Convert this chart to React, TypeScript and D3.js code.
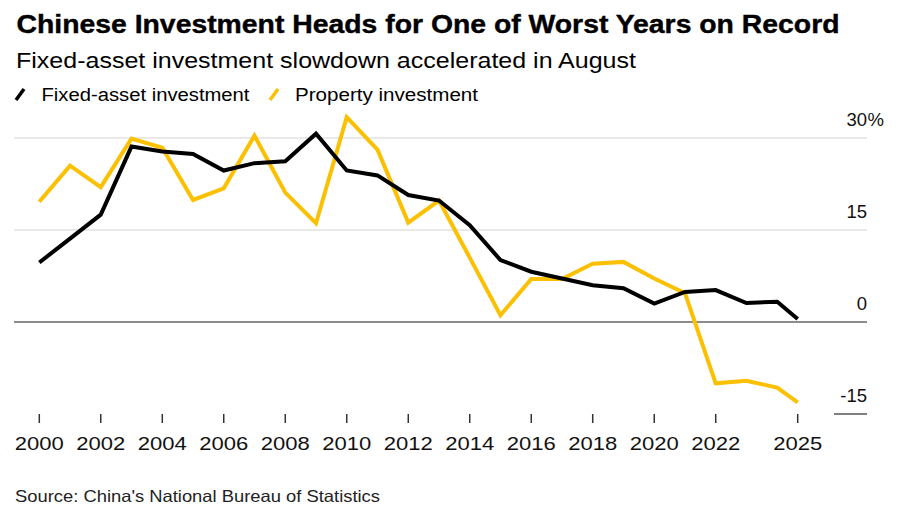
import React from 'react';
import * as d3 from 'd3';

// yearly growth, % y/y (2025 = Jan-Aug)
const years = [2000, 2001, 2002, 2003, 2004, 2005, 2006, 2007, 2008, 2009, 2010, 2011, 2012,
  2013, 2014, 2015, 2016, 2017, 2018, 2019, 2020, 2021, 2022, 2023, 2024, 2025];
const fixedAsset = [9.7, 13.6, 17.5, 28.6, 27.8, 27.4, 24.7, 25.9, 26.2, 30.7, 24.7, 23.9, 20.7,
  19.8, 15.8, 10.1, 8.2, 7.1, 6.0, 5.5, 3.0, 4.9, 5.2, 3.1, 3.3, 0.5];
const property = [19.6, 25.5, 22.0, 29.9, 28.4, 19.9, 21.8, 30.4, 21.1, 16.1, 33.4, 28.1, 16.2,
  19.8, 10.5, 1.1, 7.0, 7.0, 9.5, 9.8, 7.1, 4.7, -10.0, -9.6, -10.7, -13.1];
const tickYears = [2000, 2002, 2004, 2006, 2008, 2010, 2012, 2014, 2016, 2018, 2020, 2022, 2025];
const yTicks = [30, 15, 0, -15];

const W = 902;
const H = 505;
const FONT = "'Liberation Sans', Arial, sans-serif";
const YELLOW = '#FBC002';

// each year sits at its last reported month; 2025 only goes to August
const dateOf = (y: number) => (y === 2025 ? new Date(2025, 7, 31) : new Date(y, 11, 31));

export default function App() {
  const x = d3.scaleTime()
    .domain([dateOf(2000), dateOf(2025)])
    .range([39.3, 797.7]);
  const y = d3.scaleLinear().domain([0, 15]).range([322, 230]);

  const line = d3.line<number>()
    .x((_, i) => x(dateOf(years[i])))
    .y(d => y(d));

  return (
    <svg width={W} height={H} style={{ position: 'absolute', left: 0, top: 0, background: '#fff' }}
      fontFamily={FONT}>
      {/* header */}
      <text x={16.5} y={32.5} fontSize={26} fontWeight="bold" fill="#000" stroke="#000" strokeWidth={0.4}
        textLength={823} lengthAdjust="spacingAndGlyphs">
        Chinese Investment Heads for One of Worst Years on Record
      </text>
      <text x={16} y={68} fontSize={22} fill="#000" textLength={620} lengthAdjust="spacingAndGlyphs">
        Fixed-asset investment slowdown accelerated in August
      </text>

      {/* legend */}
      <line x1={16} y1={100} x2={24} y2={89} stroke="#000" strokeWidth={3.5} />
      <text x={41.5} y={101} fontSize={18} fill="#000" textLength={208} lengthAdjust="spacingAndGlyphs">
        Fixed-asset investment
      </text>
      <line x1={270} y1={100} x2={278} y2={89} stroke={YELLOW} strokeWidth={3.5} />
      <text x={295} y={101} fontSize={18} fill="#000" textLength={183} lengthAdjust="spacingAndGlyphs">
        Property investment
      </text>

      {/* grid */}
      {yTicks.filter(t => t > 0).map(t => (
        <line key={t} x1={14} x2={867} y1={y(t)} y2={y(t)} stroke="#e2e2e2" strokeWidth={1.5} />
      ))}
      <line x1={834} x2={867} y1={y(-15)} y2={y(-15)} stroke="#555" strokeWidth={1.3} />
      <line x1={14} x2={867} y1={y(0)} y2={y(0)} stroke="#666" strokeWidth={1.5} />
      {yTicks.map(t => (
        <text key={t} x={867} y={y(t) - 12.5} fontSize={18.5} fill="#111" textAnchor="end">
          {String(t)}
        </text>
      ))}
      <text x={867.5} y={y(30) - 12.5} fontSize={18.5} fill="#111">%</text>

      {/* series */}
      <path d={line(property) || ''} fill="none" stroke={YELLOW} strokeWidth={4} strokeLinejoin="miter" />
      <path d={line(fixedAsset) || ''} fill="none" stroke="#000" strokeWidth={4} strokeLinejoin="miter" />

      {/* x axis */}
      {tickYears.map(t => (
        <g key={t} transform={`translate(${x(dateOf(t))},0)`}>
          <line y1={414} y2={423} stroke="#333" strokeWidth={1.5} />
          <text y={450} fontSize={19} fill="#111" textAnchor="middle"
            textLength={49} lengthAdjust="spacingAndGlyphs">{t}</text>
        </g>
      ))}

      <text x={15} y={502} fontSize={16.5} fill="#222" textLength={365} lengthAdjust="spacingAndGlyphs">
        Source: China's National Bureau of Statistics
      </text>
    </svg>
  );
}
